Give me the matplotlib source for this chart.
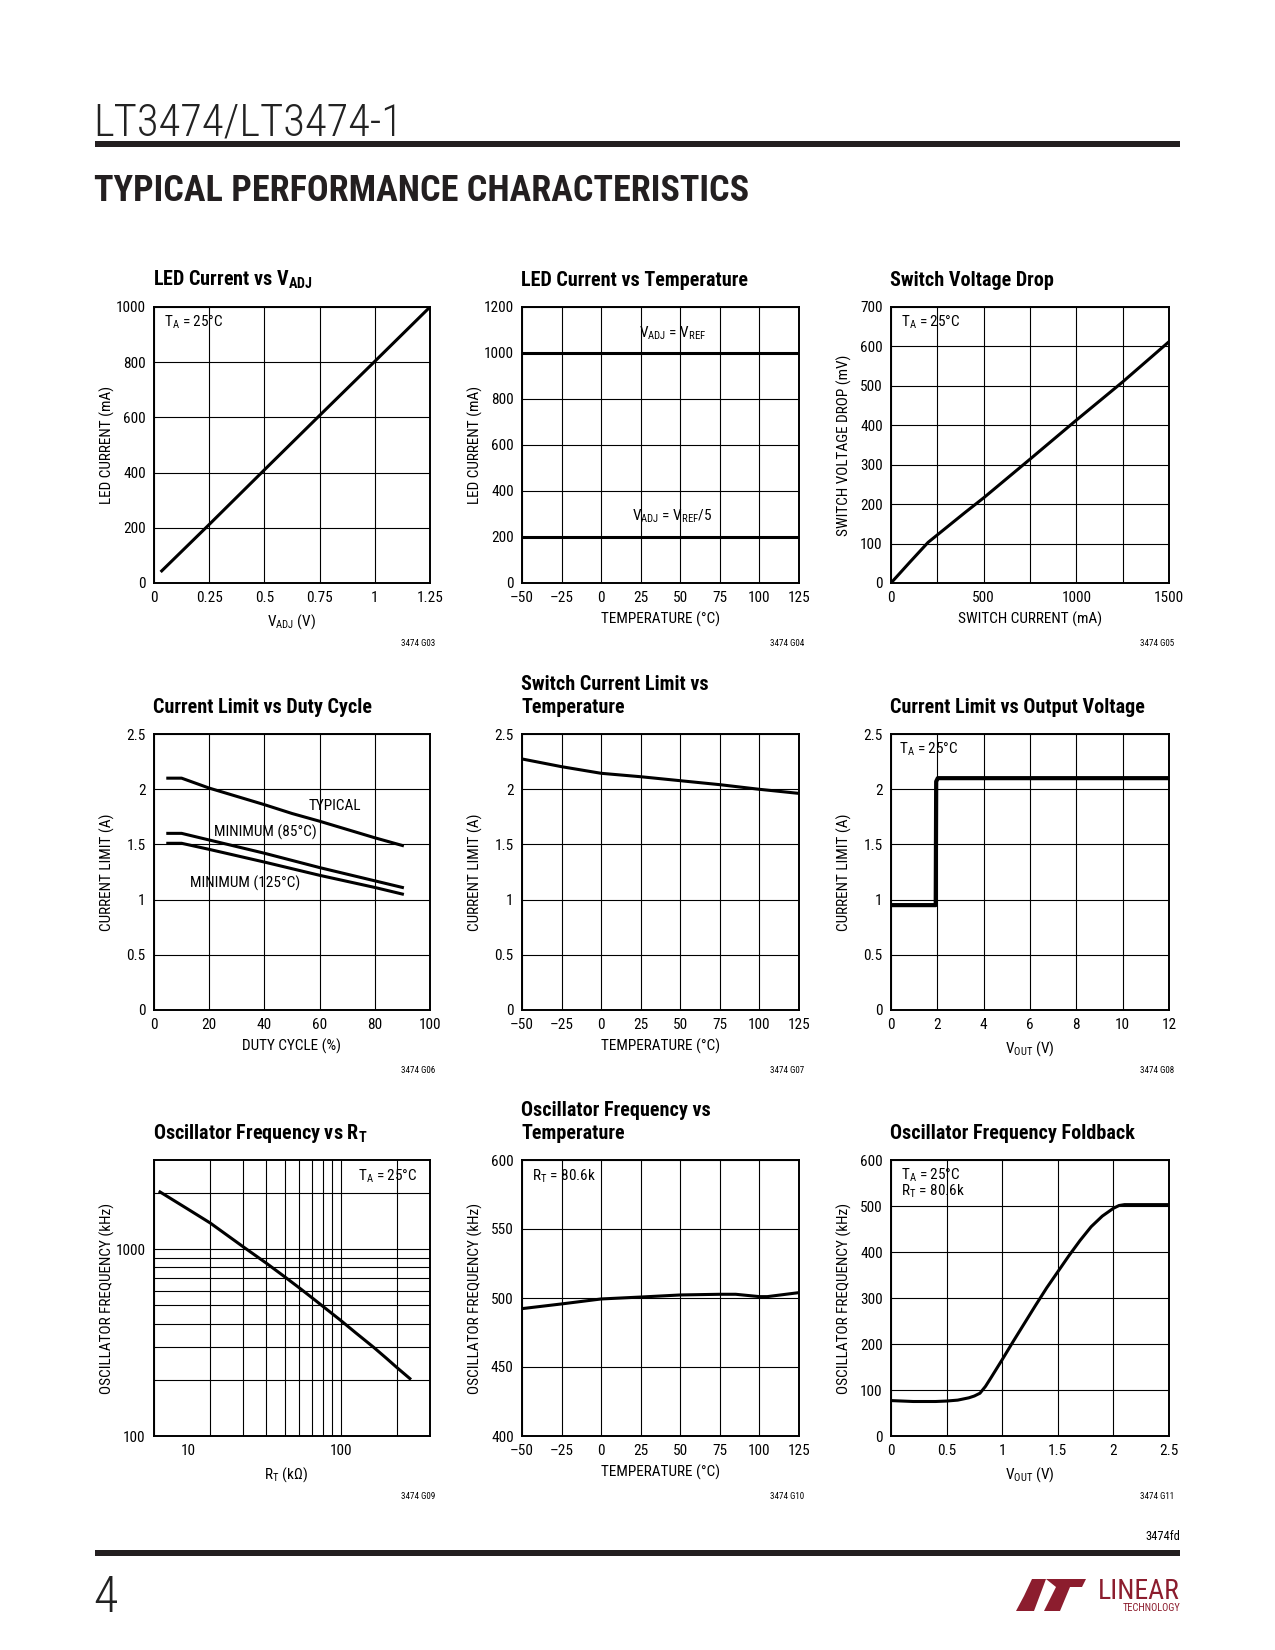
import numpy as np
import matplotlib
matplotlib.use("Agg")
import matplotlib.pyplot as plt
from matplotlib import font_manager
from matplotlib.patches import Polygon
from matplotlib.ticker import NullFormatter
from matplotlib.transforms import ScaledTranslation

# ---- data ----
# LED current vs VADJ
vadj_v = [0.03, 0.25, 0.5, 0.75, 1.0, 1.25]
vadj_ma = [40, 212, 410, 607, 803, 1000]

# LED current vs temperature
led_temp = [-50, 125]
led_full = [1000, 1000]
led_fifth = [200, 200]

# switch voltage drop
sw_ma = [0, 100, 200, 300, 400, 500, 750, 1000, 1250, 1500]
sw_mv = [0, 52, 103, 141, 179, 216, 314, 413, 510, 612]

# current limit vs duty cycle
duty_typ = [5, 10, 20, 40, 50, 60, 80, 90]
ilim_typ = [2.1, 2.1, 2.01, 1.86, 1.78, 1.71, 1.56, 1.49]
duty_min = [5, 10, 20, 40, 60, 80, 90]
ilim_85 = [1.6, 1.6, 1.54, 1.42, 1.29, 1.17, 1.11]
ilim_125 = [1.51, 1.51, 1.455, 1.34, 1.22, 1.11, 1.05]

# switch current limit vs temperature
sw_temp = [-50, -25, 0, 25, 50, 75, 100, 125]
sw_ilim = [2.274, 2.204, 2.144, 2.113, 2.077, 2.041, 1.999, 1.962]

# current limit vs output voltage
vout_step = [0, 1.93, 1.95, 2.02, 12]
ilim_step = [0.95, 0.95, 2.07, 2.1, 2.1]

# oscillator frequency vs RT
rt_k = [10.77, 15, 20, 30, 40, 50, 60, 70, 80, 100, 120, 150, 175, 200, 234]
fosc_rt = [2024, 1650, 1380, 1030, 840, 712, 620, 550, 495, 415, 357, 298, 261, 232, 203]

# oscillator frequency vs temperature
osc_temp = [-50, -25, 0, 25, 50, 75, 85, 100, 105, 125]
osc_khz = [492.3, 495.7, 499.3, 500.7, 502.2, 502.7, 502.7, 501.0, 501.0, 503.9]

# oscillator frequency foldback
fb_v = [0, 0.1, 0.2, 0.3, 0.4, 0.5, 0.6, 0.7, 0.75, 0.8, 0.85, 0.9, 1.0, 1.1,
        1.2, 1.3, 1.4, 1.5, 1.6, 1.7, 1.8, 1.9, 2.0, 2.05, 2.1, 2.5]
fb_khz = [77, 76, 75, 75, 75, 76, 78, 83, 87, 93, 108, 127, 166, 206,
          245, 284, 322, 357, 392, 425, 455, 478, 495, 501, 503, 503]

# ---- fonts ----
names = {f.name for f in font_manager.fontManager.ttflist}
fam = "Liberation Sans"
for cand in ["Liberation Sans Narrow", "Roboto Condensed", "Liberation Sans"]:
    if cand in names:
        fam = cand
        break
plt.rcParams["font.family"] = [fam, "DejaVu Sans"]
plt.rcParams["mathtext.fontset"] = "custom"
plt.rcParams["mathtext.rm"] = fam
plt.rcParams["mathtext.bf"] = fam + ":bold"
plt.rcParams["mathtext.it"] = fam + ":italic"
plt.rcParams["mathtext.default"] = "regular"

W, H = 1275, 1650
fig = plt.figure(figsize=(12.75, 16.5), dpi=100)
fig.patch.set_facecolor("white")

TICK = 11
LAB = 11
NOTE = 11


def fx(x):
    return x / W


def fy(y):
    return 1 - y / H


def panel(L, T, R, B):
    ax = fig.add_axes([fx(L), fy(B), (R - L) / W, (B - T) / H])
    for s in ax.spines.values():
        s.set_linewidth(1.4)
    ax.tick_params(length=0, pad=6, labelsize=TICK)
    ax.grid(True, color="black", linewidth=0.8)
    ax.set_axisbelow(True)
    return ax


def titles(ax, lines, T, L):
    n = len(lines)
    for i, s in enumerate(lines):
        y = T - 21 - (n - 1 - i) * 23
        fig.text(fx(L - 1), fy(y), s, fontsize=14.5, fontweight="bold", va="baseline")


def labels(ax, xl, yl, code):
    ax.set_xlabel(xl, fontsize=LAB)
    ax.set_ylabel(yl, fontsize=LAB)
    ax.xaxis.set_label_coords(0.5, -0.105)
    ax.yaxis.set_label_coords(-0.14, 0.5)
    ax.text(1.02, -0.22, code, transform=ax.transAxes, fontsize=6.5, ha="right", va="center")


cols = [(154, 430), (522, 799), (891, 1169)]
rows = [(307, 583), (734, 1010), (1160, 1436)]
temp_ticks = [-50, -25, 0, 25, 50, 75, 100, 125]
temp_labels = ["\u201350", "\u201325", "0", "25", "50", "75", "100", "125"]
LW = 2.2

# ---- row 1 ----
L, R = cols[0]; T, B = rows[0]
ax = panel(L, T, R, B)
ax.plot(vadj_v, vadj_ma, color="black", lw=LW, solid_capstyle="butt")
ax.set_xlim(0, 1.25); ax.set_ylim(0, 1000)
ax.set_xticks([0, 0.25, 0.5, 0.75, 1.0, 1.25], ["0", "0.25", "0.5", "0.75", "1", "1.25"])
ax.set_yticks(range(0, 1001, 200))
ax.text(0.035, 0.945, "T$_A$ = 25\u00b0C", transform=ax.transAxes, fontsize=NOTE, va="center")
titles(ax, ["LED Current vs V$_{ADJ}$"], T, L)
labels(ax, "V$_{ADJ}$ (V)", "LED CURRENT (mA)", "3474 G03")

L, R = cols[1]
ax = panel(L, T, R, B)
ax.plot(led_temp, led_full, color="black", lw=LW)
ax.plot(led_temp, led_fifth, color="black", lw=LW)
ax.set_xlim(-50, 125); ax.set_ylim(0, 1200)
ax.set_xticks(temp_ticks, temp_labels)
ax.set_yticks(range(0, 1201, 200))
ax.text(45, 1085, "V$_{ADJ}$ = V$_{REF}$", fontsize=NOTE, ha="center", va="center")
ax.text(45, 288, "V$_{ADJ}$ = V$_{REF}$/5", fontsize=NOTE, ha="center", va="center")
titles(ax, ["LED Current vs Temperature"], T, L)
labels(ax, "TEMPERATURE (\u00b0C)", "LED CURRENT (mA)", "3474 G04")

L, R = cols[2]
ax = panel(L, T, R, B)
ax.plot(sw_ma, sw_mv, color="black", lw=LW)
ax.set_xlim(0, 1500); ax.set_ylim(0, 700)
ax.set_xticks(range(0, 1501, 250), ["0", "", "500", "", "1000", "", "1500"])
ax.set_yticks(range(0, 701, 100))
ax.text(0.035, 0.945, "T$_A$ = 25\u00b0C", transform=ax.transAxes, fontsize=NOTE, va="center")
titles(ax, ["Switch Voltage Drop"], T, L)
labels(ax, "SWITCH CURRENT (mA)", "SWITCH VOLTAGE DROP (mV)", "3474 G05")

# ---- row 2 ----
L, R = cols[0]; T, B = rows[1]
ax = panel(L, T, R, B)
ax.plot(duty_typ, ilim_typ, color="black", lw=LW)
ax.plot(duty_min, ilim_85, color="black", lw=LW)
ax.plot(duty_min, ilim_125, color="black", lw=LW)
ax.set_xlim(0, 100); ax.set_ylim(0, 2.5)
ax.set_xticks(range(0, 101, 20))
ax.set_yticks([0, 0.5, 1, 1.5, 2, 2.5], ["0", "0.5", "1", "1.5", "2", "2.5"])
ax.text(65.7, 1.85, "TYPICAL", fontsize=NOTE, ha="center", va="center")
ax.text(40.2, 1.61, "MINIMUM (85\u00b0C)", fontsize=NOTE, ha="center", va="center")
ax.text(33, 1.15, "MINIMUM (125\u00b0C)", fontsize=NOTE, ha="center", va="center")
titles(ax, ["Current Limit vs Duty Cycle"], T, L)
labels(ax, "DUTY CYCLE (%)", "CURRENT LIMIT (A)", "3474 G06")

L, R = cols[1]
ax = panel(L, T, R, B)
ax.plot(sw_temp, sw_ilim, color="black", lw=LW)
ax.set_xlim(-50, 125); ax.set_ylim(0, 2.5)
ax.set_xticks(temp_ticks, temp_labels)
ax.set_yticks([0, 0.5, 1, 1.5, 2, 2.5], ["0", "0.5", "1", "1.5", "2", "2.5"])
titles(ax, ["Switch Current Limit vs", "Temperature"], T, L)
labels(ax, "TEMPERATURE (\u00b0C)", "CURRENT LIMIT (A)", "3474 G07")

L, R = cols[2]
ax = panel(L, T, R, B)
ax.plot(vout_step, ilim_step, color="black", lw=3)
ax.set_xlim(0, 12); ax.set_ylim(0, 2.5)
ax.set_xticks(range(0, 13, 2))
ax.set_yticks([0, 0.5, 1, 1.5, 2, 2.5], ["0", "0.5", "1", "1.5", "2", "2.5"])
ax.text(0.03, 0.945, "T$_A$ = 25\u00b0C", transform=ax.transAxes, fontsize=NOTE, va="center")
titles(ax, ["Current Limit vs Output Voltage"], T, L)
labels(ax, "V$_{OUT}$ (V)", "CURRENT LIMIT (A)", "3474 G08")

# ---- row 3 ----
L, R = cols[0]; T, B = rows[2]
ax = panel(L, T, R, B)
ax.plot(rt_k, fosc_rt, color="black", lw=LW)
ax.set_xscale("log"); ax.set_yscale("log")
ax.set_xlim(10, 300); ax.set_ylim(100, 3000)
ax.set_xticks([10, 100], ["10", "100"])
ax.set_xticks([20, 30, 40, 50, 60, 70, 80, 90, 200], minor=True)
ax.set_yticks([100, 1000], ["100", "1000"])
ax.set_yticks([200, 300, 400, 500, 600, 700, 800, 900, 2000], minor=True)
ax.xaxis.set_minor_formatter(NullFormatter())
ax.yaxis.set_minor_formatter(NullFormatter())
ax.tick_params(which="minor", length=0)
ax.grid(True, which="both", color="black", linewidth=0.8)
# the datasheet prints the "10" label a little inside the left edge
lab10 = ax.get_xticklabels()[0]
lab10.set_transform(lab10.get_transform() + ScaledTranslation(0.34, 0, fig.dpi_scale_trans))
ax.text(0.955, 0.94, "T$_A$ = 25\u00b0C", transform=ax.transAxes, fontsize=NOTE, ha="right", va="center")
titles(ax, ["Oscillator Frequency vs R$_T$"], T, L)
labels(ax, "R$_T$ (k\u03a9)", "OSCILLATOR FREQUENCY (kHz)", "3474 G09")
ax.xaxis.set_label_coords(0.48, -0.105)

L, R = cols[1]
ax = panel(L, T, R, B)
ax.plot(osc_temp, osc_khz, color="black", lw=LW)
ax.set_xlim(-50, 125); ax.set_ylim(400, 600)
ax.set_xticks(temp_ticks, temp_labels)
ax.set_yticks(range(400, 601, 50))
ax.text(0.035, 0.94, "R$_T$ = 80.6k", transform=ax.transAxes, fontsize=NOTE, va="center")
titles(ax, ["Oscillator Frequency vs", "Temperature"], T, L)
labels(ax, "TEMPERATURE (\u00b0C)", "OSCILLATOR FREQUENCY (kHz)", "3474 G10")

L, R = cols[2]
ax = panel(L, T, R, B)
ax.plot(fb_v, fb_khz, color="black", lw=LW)
ax.set_xlim(0, 2.5); ax.set_ylim(0, 600)
ax.set_xticks([0, 0.5, 1, 1.5, 2, 2.5], ["0", "0.5", "1", "1.5", "2", "2.5"])
ax.set_yticks(range(0, 601, 100))
ax.text(0.035, 0.945, "T$_A$ = 25\u00b0C", transform=ax.transAxes, fontsize=NOTE, va="center")
ax.text(0.035, 0.885, "R$_T$ = 80.6k", transform=ax.transAxes, fontsize=NOTE, va="center")
titles(ax, ["Oscillator Frequency Foldback"], T, L)
labels(ax, "V$_{OUT}$ (V)", "OSCILLATOR FREQUENCY (kHz)", "3474 G11")

# ---- page furniture ----
fig.text(fx(93), fy(136), "LT3474/LT3474-1", fontsize=32, fontweight="light",
         va="baseline", color="#222222")
fig.add_artist(plt.Rectangle((fx(95), fy(147)), fx(1180) - fx(95), 6 / H,
                             transform=fig.transFigure, color="#231f20", lw=0))
fig.text(fx(94), fy(201), "TYPICAL PERFORMANCE CHARACTERISTICS", fontsize=26,
         fontweight="black", va="baseline", color="#231f20")

fig.text(fx(1180), fy(1537), "3474fd", fontsize=9, ha="right", va="center")
fig.add_artist(plt.Rectangle((fx(95), fy(1556)), fx(1180) - fx(95), 6 / H,
                             transform=fig.transFigure, color="#231f20", lw=0))
fig.text(fx(93), fy(1612), "4", fontsize=36, fontweight="light",
         va="baseline", color="#222222")

# Linear Technology logo (approximation)
red = "#8c1d2e"
mark_l = [(1032, 1579), (1046, 1579), (1034, 1611), (1016, 1611), (1024, 1596)]
mark_t = [(1046, 1579), (1086, 1579), (1082, 1587), (1070, 1587), (1060, 1611),
          (1044, 1611), (1056, 1587)]
for pts in (mark_l, mark_t):
    fig.add_artist(Polygon([(fx(x), fy(y)) for x, y in pts], closed=True,
                           transform=fig.transFigure, color=red, lw=0))
fig.text(fx(1180), fy(1599), "LINEAR", fontsize=20, color=red, ha="right", va="baseline")
fig.text(fx(1180), fy(1611), "TECHNOLOGY", fontsize=7.5, color=red, ha="right", va="baseline")

fig.savefig("out.png", dpi=100)
